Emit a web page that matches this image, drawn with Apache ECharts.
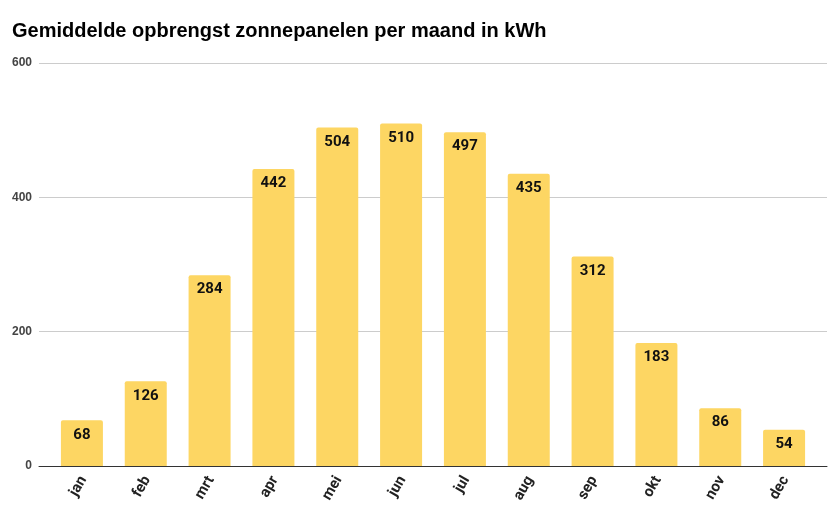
<!DOCTYPE html>
<html>
<head>
<meta charset="utf-8">
<script src="https://cdn.jsdelivr.net/npm/echarts@6/dist/echarts.min.js"></script>
<style>html,body{margin:0;padding:0;background:#fff}#c{width:835px;height:516px}</style>
</head>
<body>
<div id="c"></div>
<script>
const titleText = 'Gemiddelde opbrengst zonnepanelen per maand in kWh';
const months = ['jan','feb','mrt','apr','mei','jun','jul','aug','sep','okt','nov','dec'];
const kwh = [68,126,284,442,504,510,497,435,312,183,86,54];
const yTicks = [0,200,400,600];

const chart = echarts.init(document.getElementById('c'));
chart.setOption({
  animation: false,
  backgroundColor: '#fff',
  title: {
    text: titleText, left: 12, top: 21, padding: 0,
    textStyle: {fontFamily: 'Liberation Sans, Arial', fontWeight: 'bold', fontSize: 20, color: '#000'}
  },
  grid: [
    {left: 50, right: 19, top: 63, bottom: 50, containLabel: false},
    {left: 39, right: 8, top: 63, bottom: 50, containLabel: false}
  ],
  xAxis: [
    {
      type: 'category', gridIndex: 0, data: months,
      axisLine: {show: false}, axisTick: {show: false},
      axisLabel: {rotate: 60, margin: 14, fontFamily: 'Roboto', fontWeight: 'bold', fontSize: 15, color: '#222', padding: [0, -3, 0, 0]}
    },
    {
      type: 'category', gridIndex: 1, data: months,
      axisLine: {show: true, lineStyle: {color: '#333', width: 1}},
      axisTick: {show: false}, axisLabel: {show: false}
    }
  ],
  yAxis: [
    {
      type: 'value', gridIndex: 0, min: yTicks[0], max: yTicks[yTicks.length-1], interval: 200,
      axisLine: {show: false}, axisTick: {show: false}, axisLabel: {show: false}, splitLine: {show: false}
    },
    {
      type: 'value', gridIndex: 1, min: yTicks[0], max: yTicks[yTicks.length-1], interval: 200,
      axisLine: {show: false}, axisTick: {show: false},
      axisLabel: {margin: 7, fontFamily: 'Liberation Sans, Arial', fontWeight: 'bold', fontSize: 12, color: '#444'},
      splitLine: {show: true, lineStyle: {color: '#ccc', width: 1}}
    }
  ],
  series: [{
    type: 'bar', xAxisIndex: 0, yAxisIndex: 0, data: kwh,
    barWidth: 42,
    itemStyle: {color: '#FDD663', borderRadius: [2,2,0,0]},
    label: {
      show: true, position: 'insideTop', distance: 7,
      fontFamily: 'Roboto', fontWeight: 'bold', fontSize: 15, color: '#111'
    }
  }]
});
</script>
</body>
</html>
